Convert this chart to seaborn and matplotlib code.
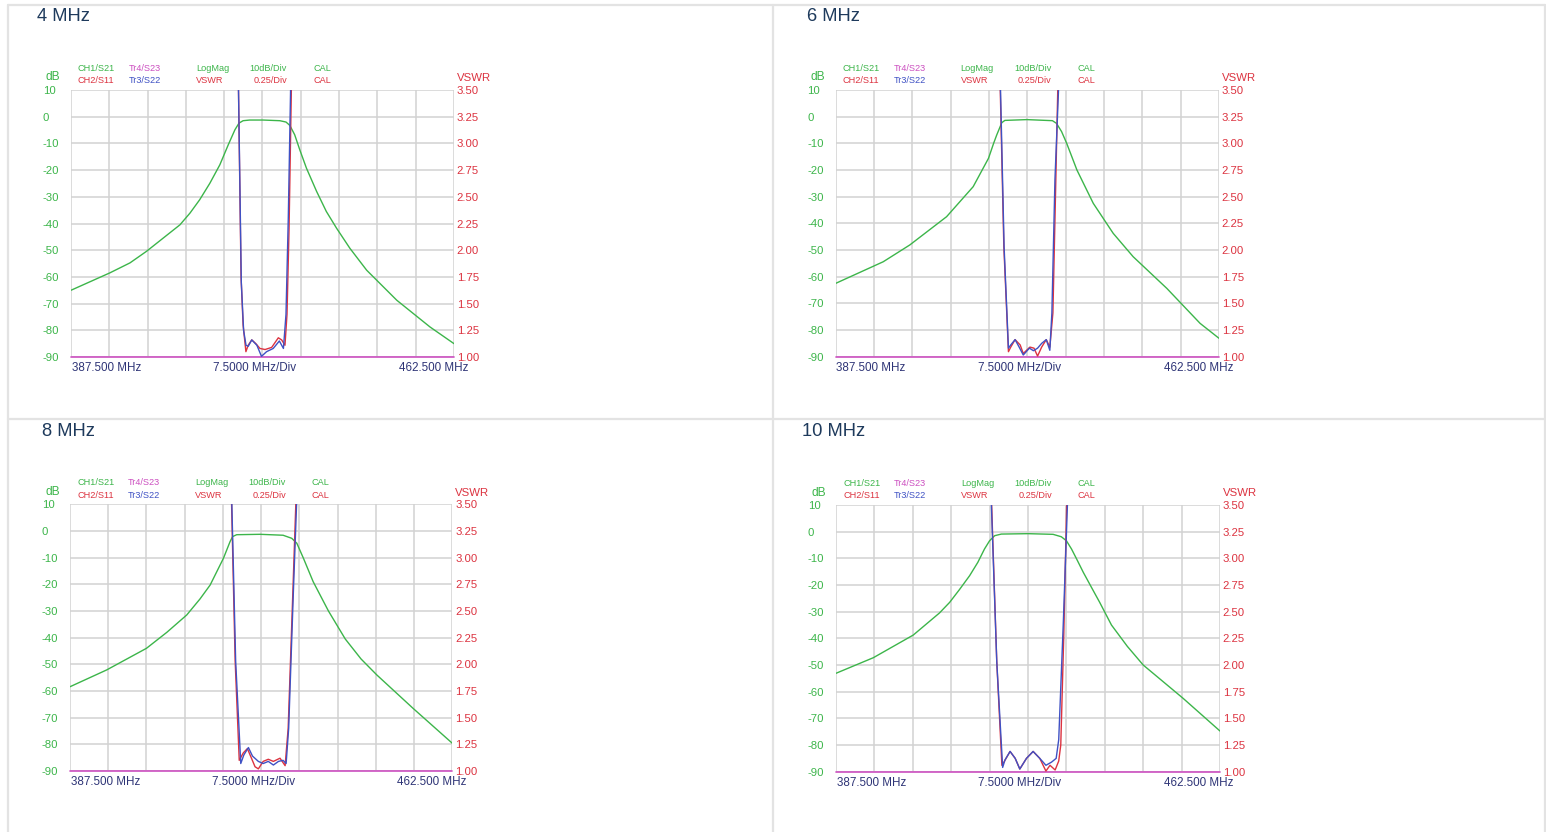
import numpy as np
import matplotlib
matplotlib.use("Agg")
import matplotlib.pyplot as plt
import seaborn as sns
from matplotlib.lines import Line2D

W, H = 1546, 832

panel_titles = ["4 MHz", "6 MHz", "8 MHz", "10 MHz"]

f_start, f_stop, f_div = 387.5, 462.5, 7.5
db_ticks = list(range(-90, 11, 10))
vswr_ticks = [1.00, 1.25, 1.50, 1.75, 2.00, 2.25, 2.50, 2.75, 3.00, 3.25, 3.50]

# ---- 4 MHz ----
s21_freq_4 = [387.5, 395.1, 399.05, 402.3, 408.83, 410.8, 412.7, 414.7, 416.65, 418.3, 419.6, 420.4,
              421.2, 422.5, 425.1, 428.4, 429.6, 430.35, 431.3, 432.3, 433.6, 435.6, 437.5,
              439.5, 442.1, 445.4, 451.3, 457.8, 462.5]
s21_db_4 = [-65, -58.5, -54.75, -50.4, -40.5, -36.1, -31.1, -24.9, -18, -10.5, -4.9, -2.4,
            -1.5, -1.25, -1.25, -1.5, -2.0, -3.25, -6.75, -12.4, -19.25, -28, -35.5,
            -41.75, -49.25, -57.5, -68.75, -78.75, -85]
s11_freq_4 = [420.1, 420.3, 420.8, 421.2, 421.75, 422.2, 422.9, 423.7, 424.5, 425.5, 426.8, 428.1,
              428.75, 429.4, 429.8, 430.2, 430.65, 430.85]
s11_vswr_4 = [4.0, 3.5, 1.75, 1.3, 1.05, 1.11, 1.16, 1.125, 1.08, 1.07, 1.09, 1.18,
              1.16, 1.11, 1.4, 2.2, 3.5, 4.0]
s22_freq_4 = [420.15, 420.3, 420.85, 421.3, 421.77, 422.2, 422.9, 423.9, 424.8, 425.8, 427.1, 428.3,
              429.1, 429.6, 430.05, 430.5, 430.7]
s22_vswr_4 = [4.0, 3.5, 1.7, 1.25, 1.11, 1.10, 1.16, 1.11, 1.006, 1.05, 1.08, 1.15,
              1.08, 1.4, 2.3, 3.5, 4.0]

# ---- 6 MHz ----
s21_freq_6 = [387.5, 396.8, 402.0, 409.2, 414.4, 417.4, 418.4, 419.0, 420.0, 420.6, 424.9, 429.9,
              430.7, 431.7, 432.7, 434.7, 437.9, 441.8, 445.7, 452.3, 458.8, 462.5]
s21_db_6 = [-62.5, -54.4, -48.1, -37.5, -26.25, -15.6, -10, -6.9, -2.25, -1.4, -1.1, -1.5,
            -2.5, -5.6, -10, -20, -32.5, -43.75, -52.5, -64.4, -77.5, -83.1]
s11_freq_6 = [419.5, 419.7, 420.4, 421.3, 421.75, 422.6, 423.6, 424.2, 425.5, 426.3, 427.0,
              427.8, 428.7, 429.4, 430.0, 430.5, 430.95, 431.2]
s11_vswr_6 = [4.0, 3.5, 2.03, 1.047, 1.09, 1.16, 1.11, 1.03, 1.09, 1.08, 1.006,
              1.09, 1.16, 1.09, 1.41, 2.5, 3.5, 4.0]
s22_freq_6 = [419.55, 419.75, 420.45, 421.3, 421.75, 422.6, 423.4, 424.2, 425.4, 426.2, 427.0,
              427.8, 428.7, 429.4, 429.8, 430.4, 431.1, 431.3]
s22_vswr_6 = [4.0, 3.5, 2.03, 1.08, 1.11, 1.16, 1.09, 1.016, 1.08, 1.056, 1.08,
              1.125, 1.16, 1.06, 1.41, 2.66, 3.5, 4.0]

# ---- 8 MHz ----
s21_freq_8 = [387.5, 394.7, 402.5, 406.5, 410.4, 413.0, 415.0, 417.6, 418.9, 419.4, 420.2, 424.8,
              429.3, 431.0, 432.0, 433.3, 435.2, 438.2, 441.5, 444.6, 447.7, 454.8, 462.5]
s21_db_8 = [-58.4, -52.1, -44, -38, -31.5, -25.5, -20.25, -10.25, -4, -2.1, -1.4, -1.25,
            -1.6, -2.75, -4.6, -10.25, -19, -30, -40.5, -48, -54, -66.5, -79.6]
s11_freq_8 = [419.0, 419.2, 419.9, 420.7, 421.5, 422.3, 423.1, 423.8, 424.45, 425.4, 426.4,
              427.4, 428.7, 429.7, 430.3, 431.2, 431.8, 432.0]
s11_vswr_8 = [4.0, 3.5, 2.03, 1.10, 1.17, 1.21, 1.12, 1.04, 1.02, 1.09, 1.11,
              1.09, 1.12, 1.05, 1.4, 2.65, 3.5, 4.0]
s22_freq_8 = [419.05, 419.25, 420.0, 421.0, 421.6, 422.5, 423.3, 424.45, 425.4, 426.4, 427.4,
              428.4, 429.3, 429.9, 430.4, 431.3, 431.95, 432.2]
s22_vswr_8 = [4.0, 3.5, 2.03, 1.07, 1.15, 1.22, 1.14, 1.09, 1.07, 1.09, 1.056,
              1.09, 1.10, 1.07, 1.4, 2.65, 3.5, 4.0]

# ---- 10 MHz ----
s21_freq_10 = [387.5, 394.8, 402.6, 407.7, 409.7, 411.6, 413.6, 415.2, 416.5, 417.5, 418.5, 419.8,
               425.0, 429.9, 431.5, 432.5, 433.5, 434.5, 435.8, 437.4, 439.0, 441.3, 444.4,
               447.5, 455.3, 462.5]
s21_db_10 = [-53.1, -47.25, -38.75, -30.5, -26.5, -21.75, -16.5, -11.5, -6.5, -3.4, -1.5, -0.9,
             -0.75, -1.0, -1.9, -3.4, -6.5, -10.25, -15.25, -20.9, -26.5, -35, -43,
             -50, -62.5, -74.75]
s11_freq_10 = [417.7, 417.9, 418.9, 419.9, 420.3, 421.5, 422.5, 423.4, 424.7, 426.0, 427.3,
               428.5, 429.3, 430.3, 431.0, 431.4, 432.0, 432.55, 432.75]
s11_vswr_10 = [4.0, 3.5, 2.03, 1.06, 1.09, 1.19, 1.125, 1.025, 1.125, 1.19, 1.125,
               1.006, 1.06, 1.016, 1.1, 1.25, 2.3, 3.5, 4.0]
s22_freq_10 = [417.65, 417.85, 418.9, 420.05, 420.5, 421.5, 422.5, 423.4, 424.7, 426.0, 427.3,
               428.5, 429.6, 430.5, 431.0, 431.9, 432.7, 432.9]
s22_vswr_10 = [4.0, 3.5, 2.03, 1.04, 1.11, 1.19, 1.125, 1.025, 1.125, 1.19, 1.125,
               1.06, 1.09, 1.125, 1.3, 2.4, 3.5, 4.0]

# S23 trace sits on the floor of the screen
s23_freq = [387.5, 462.5]
s23_db = [-90, -90]

GREEN = "#3cb54a"
RED = "#dc3340"
BLUE = "#3f51c4"
MAGENTA = "#cc4fc0"
NAVY_X = "#2f3577"
NAVY_T = "#1e3a5c"
GRID = "#d2d2d2"
FRAME = "#e3e3e3"

sns.set_style("white")
plt.rcParams["font.family"] = ["Liberation Sans", "DejaVu Sans"]

fig = plt.figure(figsize=(W / 100, H / 100), dpi=100)


def px(dx, dy):
    # pixel offset -> points for annotate
    return (dx * 0.72, -dy * 0.72)


def note(ax, s, xy, dx, dy, color, size, ha="left"):
    ax.annotate(s, xy=xy, xycoords="axes fraction", xytext=px(dx, dy),
                textcoords="offset points", ha=ha, va="center",
                color=color, fontsize=size)


def draw_panel(box, title, title_pos, s21_f, s21_v, s11_f, s11_v, s22_f, s22_v):
    L, T, R, B = box
    ax = fig.add_axes([L / W, 1 - B / H, (R - L) / W, (B - T) / H])
    ax2 = ax.twinx()

    sns.lineplot(x=s21_f, y=s21_v, ax=ax, color=GREEN, lw=1.0, zorder=3)
    sns.lineplot(x=s23_freq, y=s23_db, ax=ax, color=MAGENTA, lw=1.2, zorder=4)
    ax.lines[-1].set_clip_on(False)
    sns.lineplot(x=s11_f, y=s11_v, ax=ax2, color=RED, lw=1.0)
    sns.lineplot(x=s22_f, y=s22_v, ax=ax2, color=BLUE, lw=1.0)

    ax.set_xlim(f_start, f_stop)
    ax.set_ylim(-90, 10)
    ax2.set_ylim(1.0, 3.5)
    ax.set_xticks(np.arange(f_start, f_stop + 0.1, f_div))
    ax.set_xticklabels([])
    ax.set_yticks(db_ticks)
    ax.set_yticklabels([str(v) for v in db_ticks])
    ax.tick_params(axis="both", length=0)
    ax.tick_params(axis="y", pad=20.4, labelsize=8.2, labelcolor=GREEN)
    for t in ax.get_yticklabels():
        t.set_ha("left")
    ax2.set_yticks(vswr_ticks)
    ax2.set_yticklabels([f"{v:.2f}" for v in vswr_ticks])
    ax2.tick_params(axis="y", length=0, pad=2, labelsize=8.2, labelcolor=RED)
    ax.grid(True, color=GRID, lw=1.1)
    ax2.grid(False)
    ax.set_xlabel("")
    ax.set_ylabel("")
    ax2.set_ylabel("")
    for a in (ax, ax2):
        for sp in a.spines.values():
            sp.set_visible(False)
        legend = a.get_legend()
        if legend:
            legend.remove()

    # instrument header
    hdr = 6.6
    note(ax, "CH1/S21", (0, 1), 7, -21.7, GREEN, hdr)
    note(ax, "CH2/S11", (0, 1), 7, -9.3, RED, hdr)
    note(ax, "Tr4/S23", (0, 1), 58, -21.7, MAGENTA, hdr)
    note(ax, "Tr3/S22", (0, 1), 58, -9.3, BLUE, hdr)
    note(ax, "LogMag", (0, 1), 125, -21.7, GREEN, hdr)
    note(ax, "VSWR", (0, 1), 125, -9.3, RED, hdr)
    note(ax, "10dB/Div", (0, 1), 216, -21.7, GREEN, hdr, ha="right")
    note(ax, "0.25/Div", (0, 1), 216, -9.3, RED, hdr, ha="right")
    note(ax, "CAL", (0, 1), 242, -21.7, GREEN, hdr)
    note(ax, "CAL", (0, 1), 242, -9.3, RED, hdr)
    note(ax, "dB", (0, 1), -25, -12.5, GREEN, 8.6)
    note(ax, "VSWR", (1, 1), 2.5, -11.7, RED, 8.2)

    # frequency annotations
    note(ax, "387.500 MHz", (0, 0), 0.7, 11.2, NAVY_X, 8.4)
    note(ax, "7.5000 MHz/Div", (0, 0), 184, 11.2, NAVY_X, 8.4, ha="center")
    note(ax, "462.500 MHz", (1, 0), 14, 11.2, NAVY_X, 8.4, ha="right")

    fig.text(title_pos[0] / W, 1 - title_pos[1] / H, title, color=NAVY_T,
             fontsize=13.2, ha="left", va="center")


panels = [
    ((71, 90, 454, 357), (37, 16.5), s21_freq_4, s21_db_4, s11_freq_4, s11_vswr_4, s22_freq_4, s22_vswr_4),
    ((835.7, 90, 1219, 356.7), (807, 16.5), s21_freq_6, s21_db_6, s11_freq_6, s11_vswr_6, s22_freq_6, s22_vswr_6),
    ((70, 504.3, 452.3, 771), (42, 431.5), s21_freq_8, s21_db_8, s11_freq_8, s11_vswr_8, s22_freq_8, s22_vswr_8),
    ((836, 505, 1220, 771.7), (802, 431.5), s21_freq_10, s21_db_10, s11_freq_10, s11_vswr_10, s22_freq_10, s22_vswr_10),
]

for (box, tpos, *traces), title in zip(panels, panel_titles):
    draw_panel(box, title, tpos, *traces)

# page frame and dividers
frame_lines = [
    ((8, 1544.5), (5, 5)),
    ((8, 8), (5, 832)),
    ((1544.5, 1544.5), (5, 832)),
    ((773, 773), (5, 832)),
    ((8, 1544.5), (419, 419)),
]
for xs, ys in frame_lines:
    fig.add_artist(Line2D([x / W for x in xs], [1 - y / H for y in ys],
                          color=FRAME, lw=1.6, transform=fig.transFigure))

fig.savefig("out.png", dpi=100, facecolor="white")
